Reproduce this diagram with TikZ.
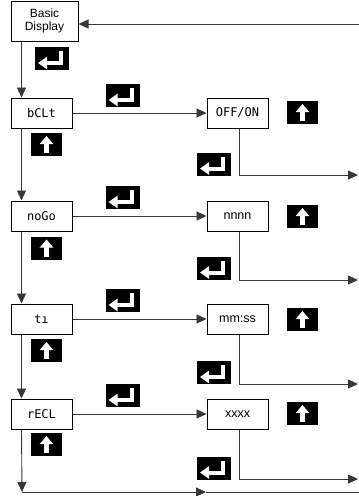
\documentclass[tikz,border=0pt]{standalone}
\usepackage{fontspec}
\setmainfont{Liberation Sans}
\newfontfamily\segfont{DejaVu Sans Mono}
\usetikzlibrary{arrows.meta, positioning, calc}
\definecolor{linegray}{RGB}{55, 55, 55}
\tikzstyle{menubox} = [rectangle, draw=black, line width=1pt, minimum width=61pt, minimum height=30pt, inner sep=0pt, font=\segfont\fontsize{12}{13}\selectfont]
\tikzstyle{valbox} = [menubox, font=\fontsize{12.5}{14}\selectfont]
\tikzstyle{arrow} = [-{Triangle[length=10pt,width=9pt]}, line width=0.9pt, draw=linegray]
\tikzstyle{line} = [line width=0.9pt, draw=linegray]
\tikzstyle{enterkey} = [rectangle, fill=black, minimum width=34pt, minimum height=23pt, inner sep=0pt,
  path picture={\draw[white, line width=4pt, line join=miter, -{Triangle[length=9pt,width=12pt]}]
    ([xshift=26pt,yshift=-4pt]path picture bounding box.north west) |- ([xshift=3pt,yshift=-16pt]path picture bounding box.north west);}]
\tikzstyle{upkey} = [rectangle, fill=black, minimum width=31pt, minimum height=23pt, inner sep=0pt,
  path picture={\draw[white, line width=4.5pt, -{Triangle[length=8pt,width=13pt]}]
    ([xshift=15.5pt,yshift=-20pt]path picture bounding box.north west) -- ([xshift=15.5pt,yshift=-3pt]path picture bounding box.north west);}]

\begin{document}
\begin{tikzpicture}[x=1pt, y={(0pt,-1pt)}]
    \useasboundingbox (0,0) rectangle (359,496);

    % Start
    \node[valbox, minimum width=67pt, minimum height=40pt, align=center, font=\fontsize{12}{13.5}\selectfont] (basic) at (44.5,21) {Basic\\Display};
    \node[enterkey] (e0) at (52,58.5) {};

    % Menu items
    \node[menubox] (bclt) at (41.5,113) {bCLt};
    \node[menubox] (nogo) at (41.5,216) {noGo};
    \node[menubox] (ti) at (41.5,319) {tı};
    \node[menubox] (recl) at (41.5,414) {rECL};

    % Values
    \node[menubox] (offon) at (237.5,113) {OFF/ON};
    \node[valbox] (nnnn) at (237.5,216) {nnnn};
    \node[valbox] (mmss) at (237.5,319) {mm:ss};
    \node[valbox] (xxxx) at (237.5,414) {xxxx};

    % Keys
    \node[enterkey] (e1) at (122.5,95.5) {};
    \node[enterkey] (e2) at (122.5,197.5) {};
    \node[enterkey] (e3) at (122.5,300.5) {};
    \node[enterkey] (e4) at (122.5,395.5) {};
    \node[upkey] (u1) at (46.5,144.5) {};
    \node[upkey] (u2) at (46.5,248) {};
    \node[upkey] (u3) at (46.5,350.5) {};
    \node[upkey] (u4) at (46.5,444.5) {};
    \node[upkey] (v1) at (302.5,112.5) {};
    \node[upkey] (v2) at (302.5,216.5) {};
    \node[upkey] (v3) at (302.5,319.5) {};
    \node[upkey] (v4) at (302.5,413.5) {};
    \node[enterkey] (f1) at (214,164) {};
    \node[enterkey] (f2) at (214,268) {};
    \node[enterkey] (f3) at (214,372.5) {};
    \node[enterkey] (f4) at (214,468) {};

    % Right edge
    \coordinate (r0) at (359,24);
    \coordinate (r1) at (358,175);
    \coordinate (r2) at (358,280);
    \coordinate (r3) at (358,384);
    \coordinate (r4) at (358,479);
    \coordinate (corner) at (22,492);
    \coordinate (mid) at (206,492);
    \coordinate (r5) at (359,492);

    % Connectors
    \draw[arrow] (r0) -- (r0 -| basic.east);
    \draw[arrow] ([xshift=11pt]basic.south west) -- ([xshift=11pt]bclt.north west);
    \draw[arrow] ([xshift=11pt]bclt.south west) -- ([xshift=11pt]nogo.north west);
    \draw[arrow] ([xshift=11pt]nogo.south west) -- ([xshift=11pt]ti.north west);
    \draw[arrow] ([xshift=11pt]ti.south west) -- ([xshift=11pt]recl.north west);
    \draw[arrow] ([xshift=11pt]recl.south west) -- (corner);
    \draw[arrow] (corner) -- (mid);
    \draw[line] (mid) -- (r5);

    \draw[arrow] (bclt) -- (offon);
    \draw[arrow] (nogo) -- (nnnn);
    \draw[arrow] (ti) -- (mmss);
    \draw[arrow] (recl) -- (xxxx);

    \draw[arrow] ([xshift=1.5pt]offon.south) |- (r1);
    \draw[arrow] ([xshift=1.5pt]nnnn.south) |- (r2);
    \draw[arrow] ([xshift=1.5pt]mmss.south) |- (r3);
    \draw[arrow] ([xshift=1.5pt]xxxx.south) |- (r4);
\end{tikzpicture}
\end{document}
